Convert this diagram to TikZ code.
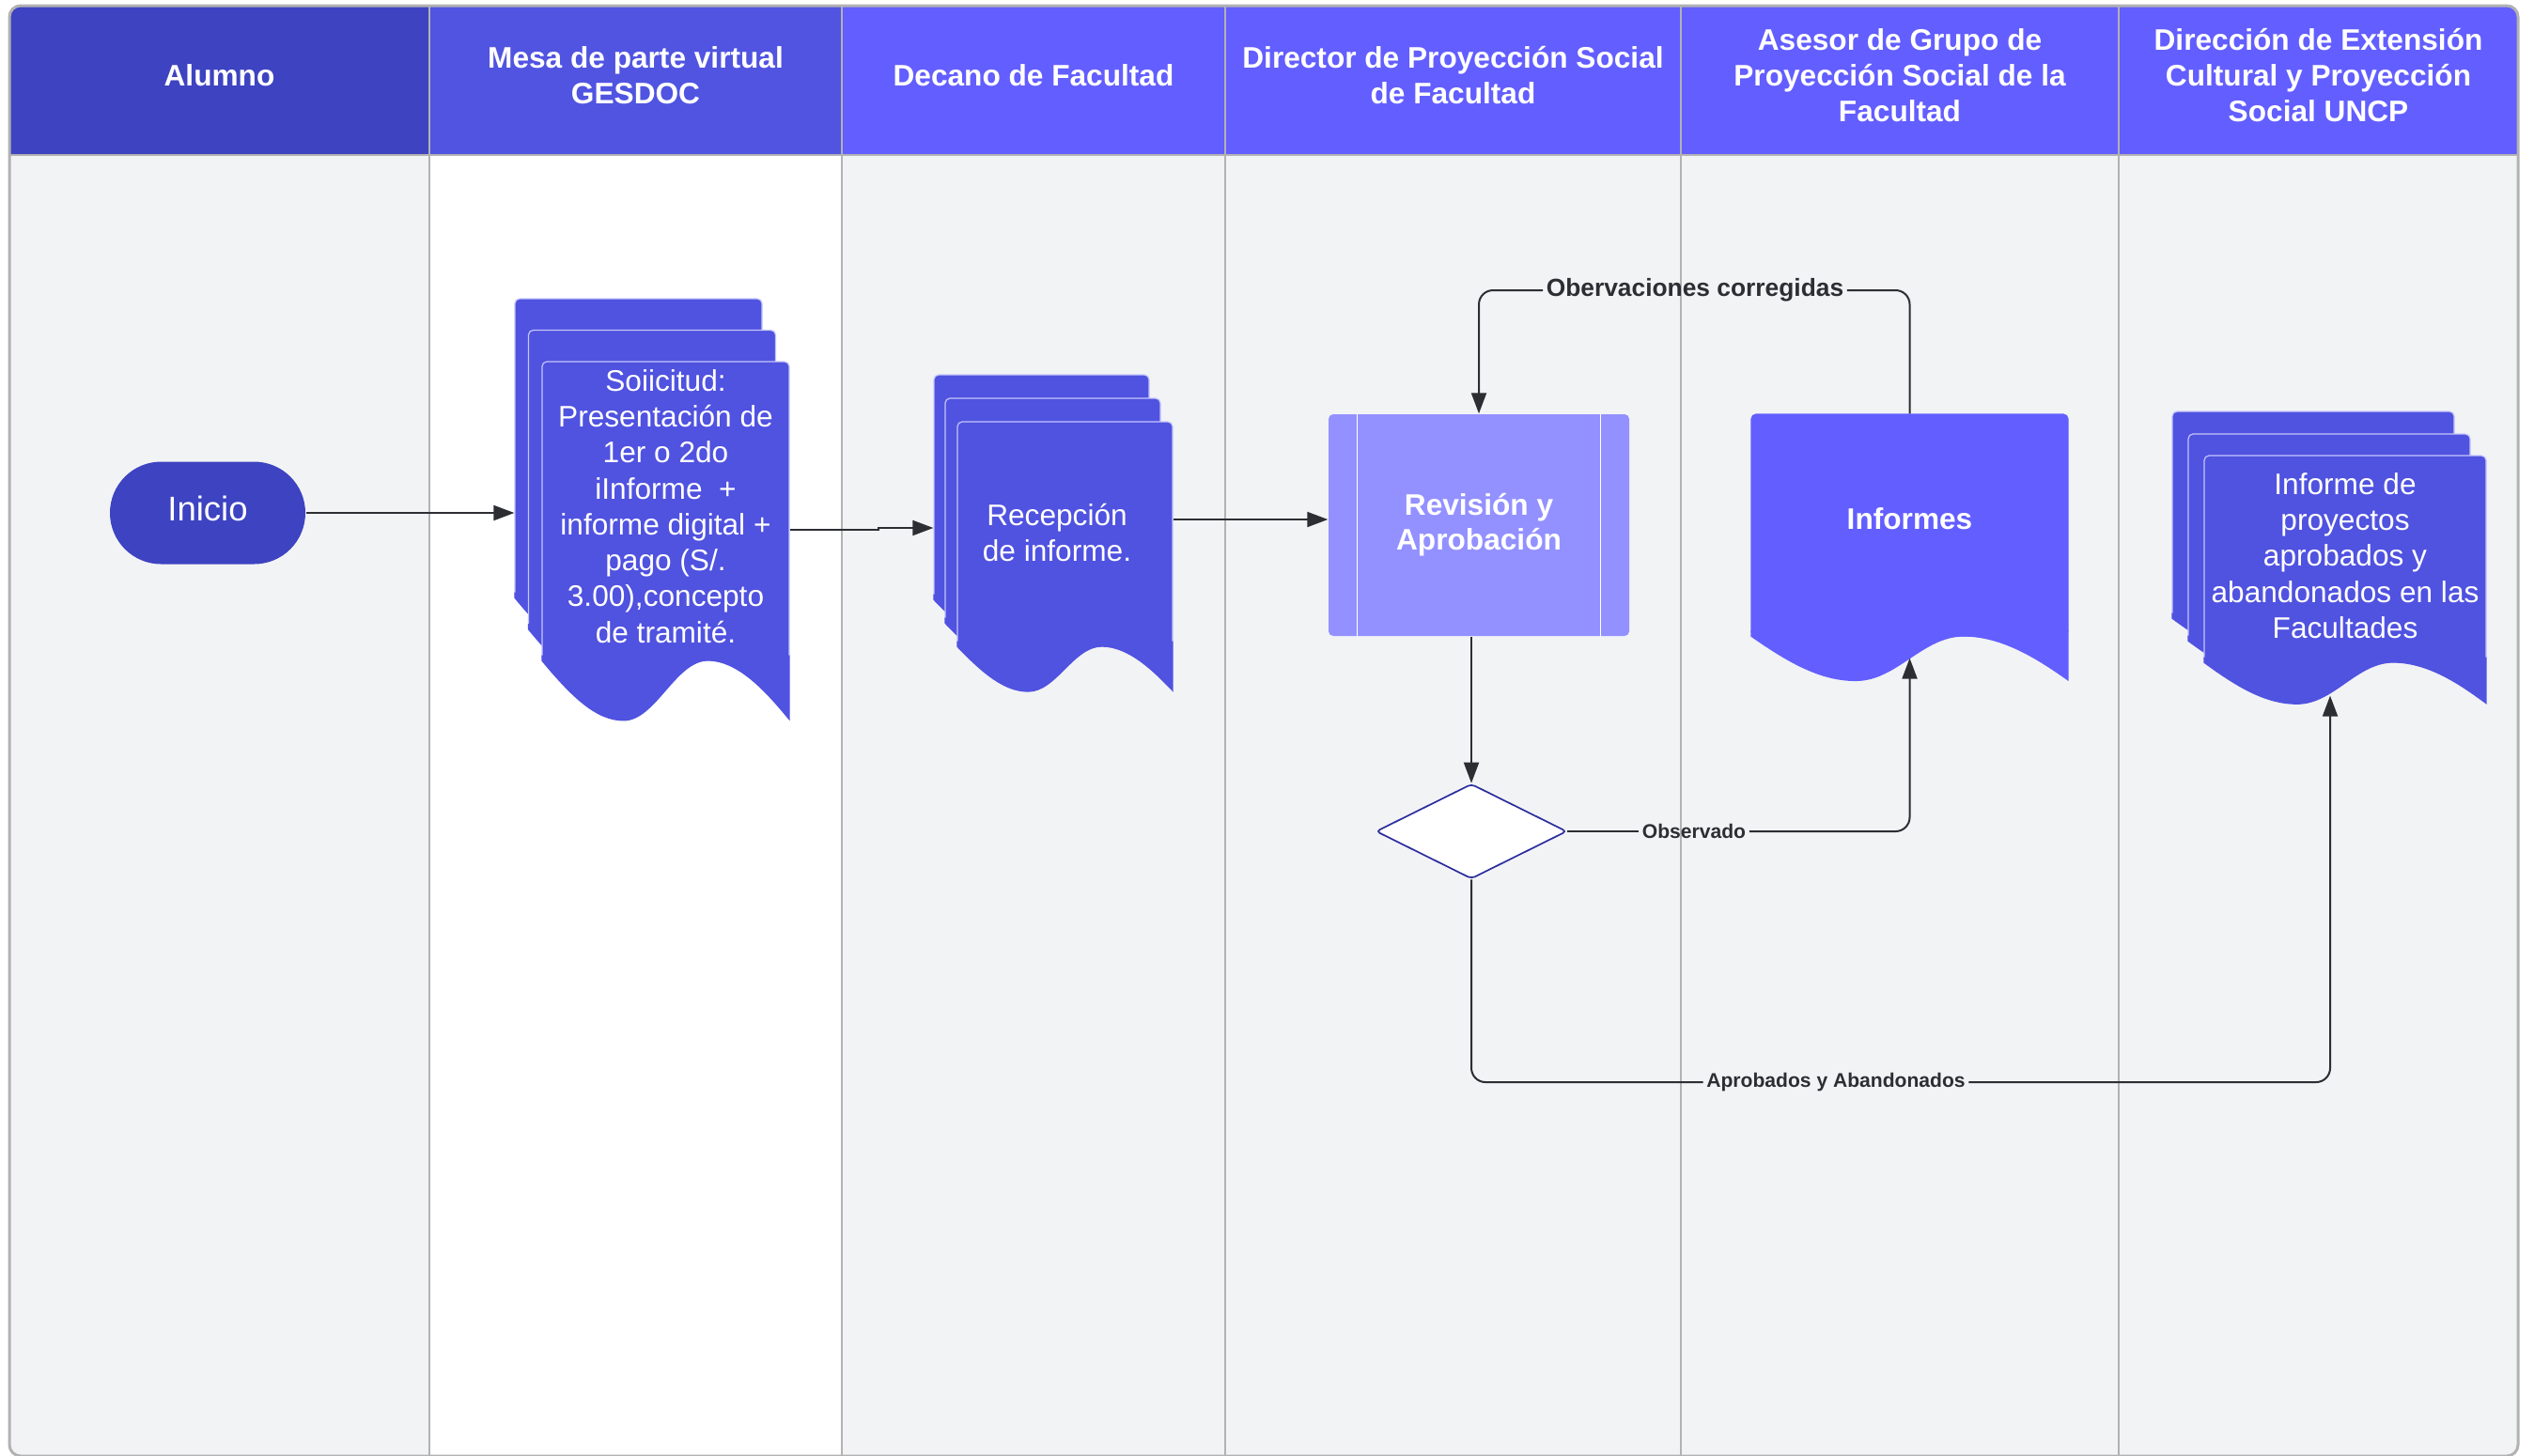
\documentclass[tikz,border=0pt]{standalone}
\usepackage{fontspec}
\setmainfont{Liberation Sans}
\usetikzlibrary{arrows.meta,calc,shapes.geometric}

\definecolor{hdrdark}{RGB}{61,67,193}
\definecolor{hdrmid}{RGB}{80,84,225}
\definecolor{hdrlight}{RGB}{99,94,255}
\definecolor{docfill}{RGB}{80,82,224}
\definecolor{docedge}{RGB}{196,198,250}
\definecolor{revfill}{RGB}{147,145,255}
\definecolor{lanegray}{RGB}{242,243,245}
\definecolor{gridgray}{RGB}{178,178,178}
\definecolor{linecol}{RGB}{44,46,51}
\definecolor{diaedge}{RGB}{44,46,158}

% wavy bottom of a document page, hung under node #1
\newcommand{\docwave}[2]{%
  \fill[#2] let \p1=(#1.south west), \p2=(#1.north east),
      \n1={\x2-\x1}, \n2={0.2*(\y2-\y1)} in
    (\x1,\y1+0.06cm) -- (\x1,\y1)
    .. controls (\x1+0.12*\n1,\y1-0.6*\n2) and (\x1+0.22*\n1,\y1-\n2) .. (\x1+0.33*\n1,\y1-\n2)
    .. controls (\x1+0.46*\n1,\y1-\n2) and (\x1+0.54*\n1,\y1) .. (\x1+0.67*\n1,\y1)
    .. controls (\x1+0.8*\n1,\y1) and (\x1+0.92*\n1,\y1-0.6*\n2) .. (\x2,\y1-\n2)
    -- (\x2,\y1+0.06cm) -- cycle;
}

\begin{document}
\begin{tikzpicture}[
    hdr/.style={inner sep=0pt, text=white, align=center, font=\fontsize{9}{10.8}\selectfont\bfseries},
    page/.style={rectangle, rounded corners=0.05cm, fill=docfill, draw=docedge, line width=0.012cm, inner sep=0pt, text depth=0.3em, text=white, align=center, font=\fontsize{9}{10.9}\selectfont},
    arrow/.style={-{Triangle[length=0.22cm, width=0.16cm]}, line width=0.02cm, draw=linecol, rounded corners=0.15cm},
    link/.style={line width=0.02cm, draw=linecol, rounded corners=0.15cm},
    lbl/.style={text=linecol, inner sep=0.03cm, font=\fontsize{6}{7}\selectfont\bfseries},
    dec/.style={diamond, aspect=2, minimum width=2.03cm, minimum height=1.01cm, inner sep=0pt, fill=white, draw=diaedge, line width=0.017cm, rounded corners=0.04cm}
]
\useasboundingbox (0,0) rectangle (26.97,-15.49);
\fill[white] (0,0) rectangle (26.97,-15.49);

% Lanes
\begin{scope}
\clip[rounded corners=0.12cm] (0.10,-0.06) rectangle (26.80,-15.50);
\fill[lanegray] (0.10,-1.64) rectangle (4.57,-15.6);
\fill[white] (4.57,-1.64) rectangle (8.96,-15.6);
\fill[lanegray] (8.96,-1.64) rectangle (26.80,-15.6);

\fill[hdrdark] (0.10,-0.06) rectangle (4.57,-1.64);
\fill[hdrmid] (4.57,-0.06) rectangle (8.96,-1.64);
\fill[hdrlight] (8.96,-0.06) rectangle (26.80,-1.64);

% Lane borders
\draw[gridgray, line width=0.02cm] (0.10,-1.645) -- (26.80,-1.645);
\draw[gridgray, line width=0.02cm] (4.57,0) -- (4.57,-15.6);
\draw[gridgray, line width=0.02cm] (8.96,0) -- (8.96,-15.6);
\draw[gridgray, line width=0.02cm] (13.04,0) -- (13.04,-15.6);
\draw[gridgray, line width=0.02cm] (17.89,0) -- (17.89,-15.6);
\draw[gridgray, line width=0.02cm] (22.55,0) -- (22.55,-15.6);
\end{scope}
\draw[gridgray, line width=0.03cm, rounded corners=0.12cm] (0.10,-0.06) rectangle (26.80,-15.50);

% Lane headers
\node[hdr] (h1) at (2.335,-0.80) {Alumno};
\node[hdr] (h2) at (6.765,-0.80) {Mesa de parte virtual\\GESDOC};
\node[hdr] (h3) at (11.00,-0.80) {Decano de Facultad};
\node[hdr] (h4) at (15.465,-0.80) {Director de Proyección Social\\de Facultad};
\node[hdr] (h5) at (20.22,-0.80) {Asesor de Grupo de\\Proyección Social de la\\Facultad};
\node[hdr] (h6) at (24.675,-0.80) {Dirección de Extensión\\Cultural y Proyección\\Social UNCP};

% Alumno
\node[rectangle, rounded corners=0.545cm, minimum width=2.08cm, minimum height=1.09cm, fill=hdrdark, text=white, text depth=0.25em, font=\fontsize{10.4}{12}\selectfont] (ini) at (2.21,-5.46) {Inicio};

% Mesa de parte: solicitud (three pages)
\node[page, minimum width=2.63cm, minimum height=3.18cm] (sol1) at (6.795,-4.77) {};
\docwave{sol1}{docfill}
\node[page, minimum width=2.63cm, minimum height=3.18cm] (sol2) at (6.94,-5.105) {};
\docwave{sol2}{docfill}
\node[page, minimum width=2.63cm, minimum height=3.18cm] (sol3) at (7.085,-5.44) {
    Soiicitud:\\
    Presentación de\\
    1er o 2do\\
    iInforme\ \ +\\
    informe digital +\\
    pago (S/.\\
    3.00),concepto\\
    de tramité.
};
\docwave{sol3}{docfill}

% Decano: recepcion (three pages)
\node[page, minimum width=2.29cm, minimum height=2.39cm] (rec1) at (11.085,-5.185) {};
\docwave{rec1}{docfill}
\node[page, minimum width=2.29cm, minimum height=2.39cm] (rec2) at (11.205,-5.435) {};
\docwave{rec2}{docfill}
\node[page, minimum width=2.29cm, minimum height=2.39cm, text depth=0.1em] (rec3) at (11.335,-5.685) {
    Recepción\hspace*{0.17cm}\\
    de informe.\hspace*{0.17cm}
};
\docwave{rec3}{docfill}

% Director: revision and decision
\node[rectangle, rounded corners=0.05cm, minimum width=3.20cm, minimum height=2.36cm, fill=revfill, text=white, align=center, font=\fontsize{9}{10.6}\selectfont\bfseries] (rev) at (15.74,-5.59) {
    Revisión y\\
    Aprobación
};
\draw[white, line width=0.01cm] ([xshift=0.31cm]rev.north west) -- ([xshift=0.31cm]rev.south west);
\draw[white, line width=0.01cm] ([xshift=-0.31cm]rev.north east) -- ([xshift=-0.31cm]rev.south east);

\node[dec] (dia) at (15.66,-8.85) {};

% Asesor: informes
\node[page, fill=hdrlight, draw=hdrlight, minimum width=3.37cm, minimum height=2.36cm, text depth=0.4em, font=\fontsize{9}{10.9}\selectfont\bfseries] (inf) at (20.325,-5.59) {Informes};
\docwave{inf}{hdrlight}

% Direccion: informe final (three pages)
\node[page, minimum width=3.00cm, minimum height=2.20cm] (fin1) at (24.62,-5.48) {};
\docwave{fin1}{docfill}
\node[page, minimum width=3.00cm, minimum height=2.20cm] (fin2) at (24.79,-5.72) {};
\docwave{fin2}{docfill}
\node[page, minimum width=3.00cm, minimum height=2.20cm, text depth=0.2em] (fin3) at (24.96,-5.95) {
    Informe de\\
    proyectos\\
    aprobados y\\
    abandonados en las\\
    Facultades
};
\docwave{fin3}{docfill}

% Labels
\node[lbl, font=\fontsize{7.5}{9}\selectfont\bfseries] (obc) at (18.04,-3.09) {Obervaciones corregidas};
\node[lbl] (obs) at (18.03,-8.85) {Observado};
\node[lbl] (apr) at (19.54,-11.52) {Aprobados y Abandonados};

% Arrows
\draw[arrow] (ini.east) -- (ini.east -| sol1.west);
\draw[arrow, sharp corners] ([yshift=-0.2cm]sol3.east) -- ++(0.94,0) |- ([yshift=-0.435cm]rec1.west);
\draw[arrow] ([yshift=0.155cm]rec3.east) -- ([yshift=0.155cm]rec3.east -| rev.west);
\draw[arrow] (rev.south -| dia.north) -- (dia.north);

\draw[link] (dia.east) -- (obs.west);
\draw[arrow] (obs.east) -| ([yshift=-0.23cm]inf.south);

\draw[link] (inf.north) |- (obc.east);
\draw[arrow] (obc.west) -| (rev.north);

\draw[link] (dia.south) |- (apr.west);
\draw[arrow] (apr.east) -| ([xshift=-0.16cm, yshift=-0.35cm]fin3.south);

\end{tikzpicture}
\end{document}
